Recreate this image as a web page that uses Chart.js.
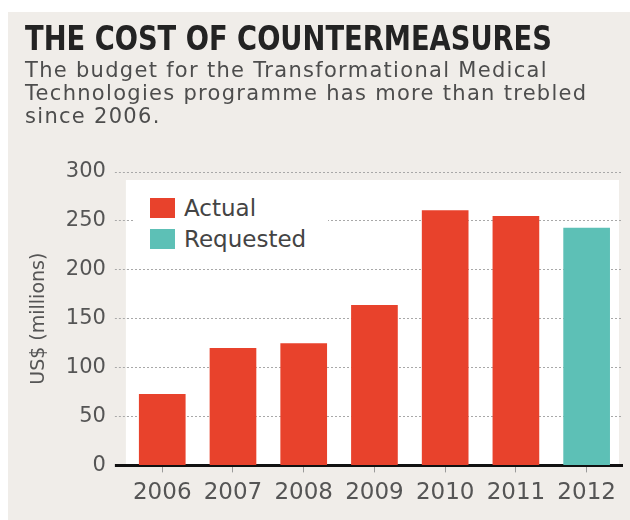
<!DOCTYPE html>
<html>
<head>
<meta charset="utf-8">
<script src="https://cdn.jsdelivr.net/npm/chart.js@4.4.1/dist/chart.umd.min.js"></script>
<style>
  html, body { margin: 0; padding: 0; background: #fff; }
  #wrap { position: relative; width: 630px; height: 520px; overflow: hidden; }
  #panel { position: absolute; left: 8px; top: 12px; right: 0; bottom: 0; background: #f0ede9; }
  #title { position: absolute; left: 25px; top: 22px; font-family: "DejaVu Sans Condensed", "DejaVu Sans", sans-serif;
           font-stretch: condensed; font-weight: bold; font-size: 33px; line-height: 33px; color: #232323;
           white-space: nowrap; transform: scaleX(0.92); transform-origin: left top; }
  #sub { position: absolute; left: 25px; top: 59px; font-family: "DejaVu Sans", sans-serif; font-size: 21px;
         line-height: 23px; letter-spacing: 1.3px; color: #4d4d4d; white-space: nowrap; }
  #legend { position: absolute; left: 135px; top: 190px; background: #fff; padding: 2px 22px 3px 15px;
            font-family: "DejaVu Sans", sans-serif; font-size: 23px; color: #444; }
  #legend div { display: flex; align-items: center; height: 31px; }
  #legend span.box { display: inline-block; width: 25px; height: 20px; margin-right: 9px; }
  #chartBox { position: absolute; left: 0; top: 0; width: 630px; height: 520px; }
</style>
</head>
<body>
<div id="wrap">
  <div id="panel"></div>
  <div id="chartBox"><canvas id="c"></canvas></div>
  <div id="title">THE COST OF COUNTERMEASURES</div>
  <div id="sub">The budget for the Transformational Medical<br>Technologies programme has more than trebled<br>since 2006.</div>
  <div id="legend"></div>
</div>
<script>
// values (US$ millions)
const years = ['2006', '2007', '2008', '2009', '2010', '2011', '2012'];
const actual = [73, 120, 125, 164, 261, 255, null];
const requested = [null, null, null, null, null, null, 243];
const yTicks = [0, 50, 100, 150, 200, 250, 300];

const RED = '#e8422c';
const TEAL = '#5dc0b6';

// white plotting panel behind the bars (starts just below the 300 line)
const panelBg = {
  id: 'panelBg',
  beforeDraw(chart) {
    const { ctx, chartArea } = chart;
    ctx.save();
    ctx.fillStyle = '#ffffff';
    ctx.fillRect(chartArea.left - 1, chartArea.top + 8, chartArea.right - chartArea.left - 2, chartArea.bottom - chartArea.top - 8);
    ctx.restore();
  }
};

const chart = new Chart(document.getElementById('c'), {
  type: 'bar',
  data: {
    labels: years,
    datasets: [
      { label: 'Actual', data: actual, backgroundColor: RED },
      { label: 'Requested', data: requested, backgroundColor: TEAL }
    ]
  },
  options: {
    responsive: true,
    maintainAspectRatio: false,
    animation: false,
    layout: { padding: { top: 172, left: 28, right: 8, bottom: 6 } },
    datasets: { bar: { barPercentage: 0.66, categoryPercentage: 1 } },
    plugins: { legend: { display: false }, tooltip: { enabled: false } },
    scales: {
      x: {
        stacked: true,
        grid: { display: true, offset: false, drawOnChartArea: false, drawTicks: true, tickLength: 7, color: '#9a9a9a', tickWidth: 1 },
        border: { display: true, color: '#111', width: 3 },
        ticks: { color: '#555', font: { family: 'DejaVu Sans', size: 23 }, padding: 7 }
      },
      y: {
        stacked: true,
        min: 0, max: 300,
        afterBuildTicks(axis) { axis.ticks = yTicks.map(v => ({ value: v })); },
        grid: {
          color: '#a8a8a8', lineWidth: 1,
          drawTicks: true, tickLength: 12,
          tickColor: c => (c.tick && c.tick.value === 0 ? '#111' : '#a8a8a8'),
          tickWidth: c => (c.tick && c.tick.value === 0 ? 3 : 1),
          tickBorderDash: c => (c.tick && c.tick.value === 0 ? [] : [2, 2])
        },
        border: { display: false, dash: [2, 2] },
        ticks: { color: '#555', font: { family: 'DejaVu Sans', size: 21 }, padding: 9 },
        title: { display: true, text: 'US$ (millions)', color: '#555', font: { family: 'DejaVu Sans', size: 19 }, padding: { top: 0, bottom: 6 } }
      }
    }
  },
  plugins: [panelBg]
});

// legend built from the dataset labels/colours
const legend = document.getElementById('legend');
chart.data.datasets.forEach(ds => {
  const row = document.createElement('div');
  row.innerHTML = `<span class="box" style="background:${ds.backgroundColor}"></span>${ds.label}`;
  legend.appendChild(row);
});
</script>
</body>
</html>
